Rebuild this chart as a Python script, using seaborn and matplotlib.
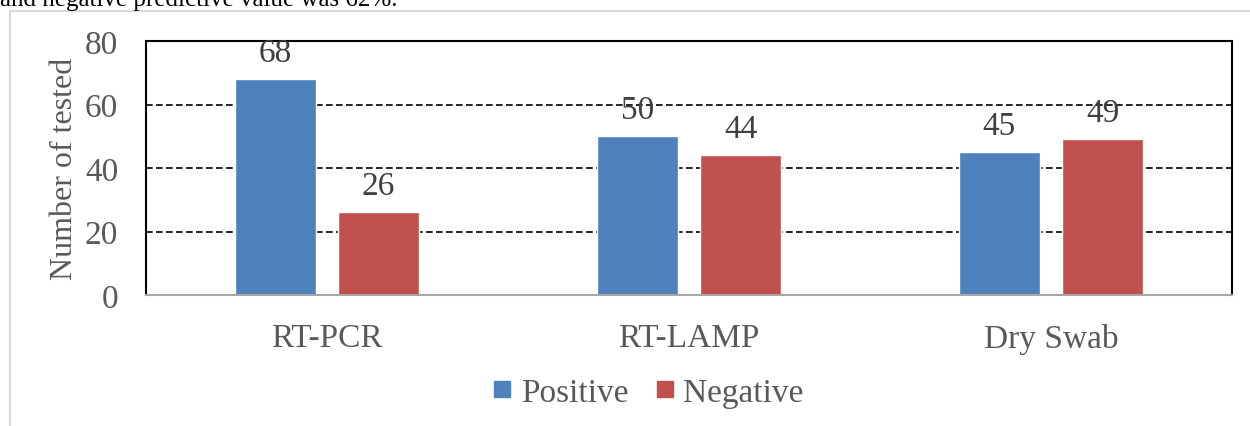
import matplotlib
matplotlib.use("Agg")
import matplotlib.pyplot as plt
import seaborn as sns
import pandas as pd
from matplotlib.patches import Rectangle
from matplotlib.lines import Line2D

categories = ["RT-PCR", "RT-LAMP", "Dry Swab"]
series_names = ["Positive", "Negative"]
positive = [68, 50, 45]
negative = [26, 44, 49]
y_ticks = [0, 20, 40, 60, 80]
colors = ["#4F81BD", "#C0504D"]

df = pd.DataFrame({
    "Method": categories * 2,
    "Result": [series_names[0]] * 3 + [series_names[1]] * 3,
    "Count": positive + negative,
})

sns.set_theme(style="white")
plt.rcParams["font.family"] = ["Liberation Serif", "DejaVu Serif"]
grey = "#595959"

fig = plt.figure(figsize=(12.5, 4.27), dpi=100)
# outer frame of the chart area
fig.patches.append(Rectangle((10 / 1250, -0.1), 1.1, 1 - 12 / 427 + 0.1,
                             transform=fig.transFigure, fill=False,
                             edgecolor="#d9d9d9", linewidth=1.5))
fig.text(0.0, 1.0, "and negative predictive value was 62%.", ha="left", va="center",
         fontsize=18, color="black")

ax = fig.add_axes([146 / 1250, 1 - 296 / 427, (1232 - 146) / 1250, (296 - 42) / 427])
sns.barplot(data=df, x="Method", y="Count", hue="Result",
            palette=colors, width=0.57, gap=0.21,
            saturation=1, ax=ax, legend=False)

for cont in ax.containers:
    ax.bar_label(cont, padding=8, fontsize=24, color="#404040")

ax.set_ylim(0, 80)
ax.set_yticks(y_ticks)
ax.set_xlim(-0.5, 2.5)
ax.yaxis.grid(True, linestyle=(0, (4, 2)), color="black", linewidth=1.2)
ax.set_axisbelow(True)
ax.tick_params(axis="both", length=0, labelsize=24, labelcolor=grey)
ax.tick_params(axis="y", pad=20)
ax.tick_params(axis="x", pad=20)
ax.set_xlabel("")
ax.set_ylabel("Number of tested", fontsize=23, color=grey, labelpad=4)
for s in ["left", "right", "top"]:
    ax.spines[s].set_color("black")
    ax.spines[s].set_linewidth(1.5)
ax.spines["bottom"].set_color("#a6a6a6")
ax.spines["bottom"].set_linewidth(1.5)

handles = [Line2D([], [], marker="s", linestyle="none", markersize=11,
                  markerfacecolor=c, markeredgecolor=c) for c in colors]
leg = ax.legend(handles, series_names, loc="center", bbox_to_anchor=(0.463, -0.385),
                ncol=2, frameon=False, fontsize=24, handlelength=0.5,
                handletextpad=0.3, columnspacing=0.85)
for t in leg.get_texts():
    t.set_color(grey)

fig.savefig("out.png", dpi=100)
